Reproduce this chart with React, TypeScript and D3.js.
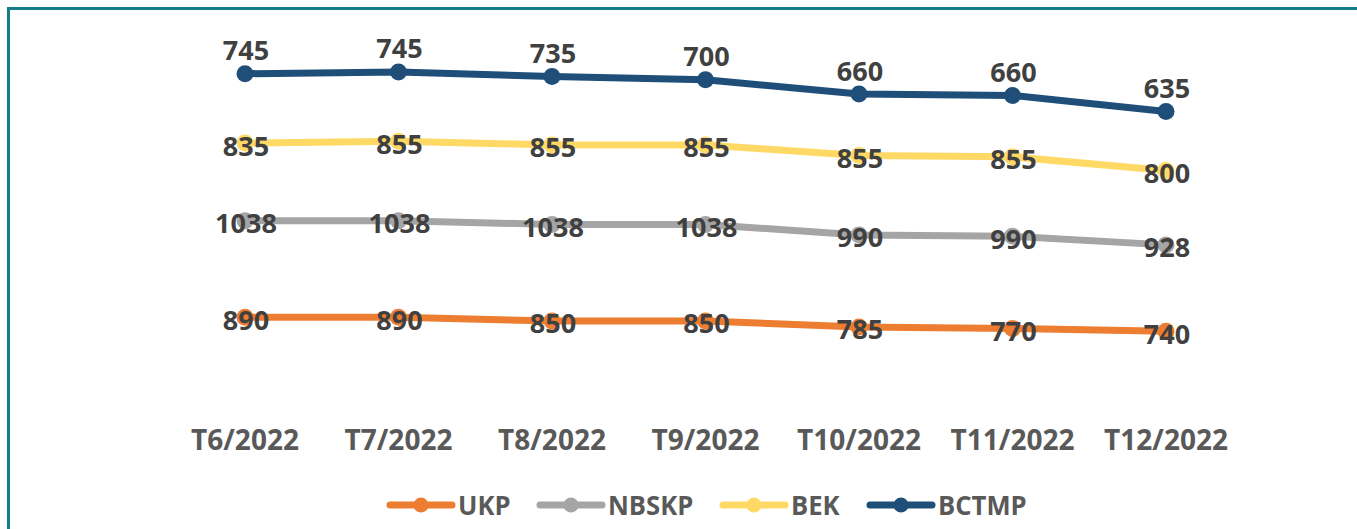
import React from "react";
import * as d3 from "d3";

const categories = ["T6/2022", "T7/2022", "T8/2022", "T9/2022", "T10/2022", "T11/2022", "T12/2022"];
const seriesNames = ["UKP", "NBSKP", "BEK", "BCTMP"];
const ukp = [890, 890, 850, 850, 785, 770, 740];
const nbskp = [1038, 1038, 1038, 1038, 990, 990, 928];
const bek = [835, 855, 855, 855, 855, 855, 800];
const bctmp = [745, 745, 735, 700, 660, 660, 635];
const colors = ["#ED7D31", "#A5A5A5", "#FFD966", "#1F4E79"];

const W = 1357;
const H = 529;

export default function App() {
  const values = [ukp, nbskp, bek, bctmp];
  const rows = categories.map((c, i) => {
    const r: any = { cat: c };
    seriesNames.forEach((s, k) => (r[s] = values[k][i]));
    return r;
  });
  const stacked = d3.stack().keys(seriesNames)(rows);

  const x = d3.scalePoint().domain(categories).range([245, 1166]);
  const y = d3.scaleLinear().domain([0, 4000]).range([400, 28]);
  const line = d3
    .line<any>()
    .x((d) => x(d.data.cat) as number)
    .y((d) => y(d[1]));

  const font = "'Open Sans', sans-serif";

  const legendX = [390, 540, 723, 870];

  return (
    <svg
      width={W}
      height={H}
      style={{ position: "absolute", left: 0, top: 0, background: "#fff" }}
      fontFamily={font}
    >
      <rect x={8.5} y={8.5} width={W + 20} height={H + 20} fill="none" stroke="#167C88" strokeWidth={3} />
      {stacked.map((layer, k) => (
        <g key={seriesNames[k]}>
          <path d={line(layer as any) || ""} fill="none" stroke={colors[k]} strokeWidth={7} strokeLinejoin="round" strokeLinecap="round" />
          {layer.map((d: any, i) => (
            <circle key={i} cx={x(d.data.cat)} cy={y(d[1])} r={8.5} fill={colors[k]} />
          ))}
        </g>
      ))}
      {stacked.map((layer, k) =>
        layer.map((d: any, i) => {
          const above = k === 3;
          return (
            <text
              key={seriesNames[k] + i}
              x={(x(d.data.cat) as number) + 1}
              y={y(d[1]) + (above ? -24 : 2)}
              textAnchor="middle"
              dominantBaseline="central"
              fontSize={27}
              fontWeight={700}
              fill="#404040"
            >
              {values[k][i]}
            </text>
          );
        })
      )}
      {categories.map((c) => (
        <text
          key={c}
          x={x(c)}
          y={439}
          textAnchor="middle"
          dominantBaseline="central"
          fontSize={28}
          fontWeight={700}
          fill="#595959"
        >
          {c}
        </text>
      ))}
      {seriesNames.map((s, k) => (
        <g key={s} transform={`translate(${legendX[k]},505)`}>
          <line x1={0} x2={62} y1={0} y2={0} stroke={colors[k]} strokeWidth={7} strokeLinecap="round" />
          <circle cx={31} cy={0} r={7.5} fill={colors[k]} />
          <text
            x={0}
            y={0}
            transform="translate(68,0) scale(0.95,1)"
            dominantBaseline="central"
            fontSize={27}
            fontWeight={700}
            fill="#595959"
          >
            {s}
          </text>
        </g>
      ))}
    </svg>
  );
}
